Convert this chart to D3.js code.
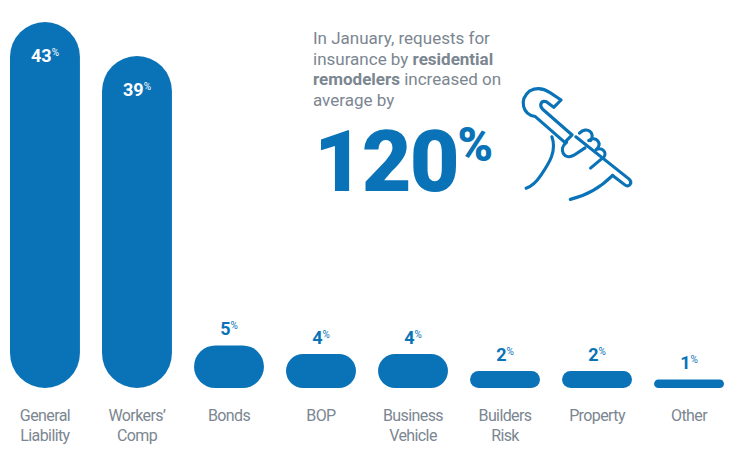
<!DOCTYPE html>
<html><head><meta charset="utf-8">
<script src="https://cdn.jsdelivr.net/npm/d3@7"></script>
<style>body{margin:0;background:#fff}text{font-family:Roboto,sans-serif}</style>
</head><body>
<svg id="c" width="750" height="466"></svg>
<script>
var categories = ["General|Liability","Workers’|Comp","Bonds","BOP","Business|Vehicle","Builders|Risk","Property","Other"];
var values = [43, 39, 5, 4, 4, 2, 2, 1];
var blue = "#0a73b7", grey = "#7b8691";

var svg = d3.select("#c");
var x = d3.scaleBand().domain(categories).range([10, 724]).paddingInner(0.24).paddingOuter(0);
var y = d3.scaleLinear().domain([0, 43]).range([388, 22]);

// bars, pill shaped
svg.selectAll("rect.bar").data(values).enter().append("rect")
  .attr("x", (d,i) => x(categories[i]))
  .attr("y", d => y(d))
  .attr("width", x.bandwidth())
  .attr("height", d => y(0) - y(d))
  .attr("rx", d => Math.min(x.bandwidth()/2, (y(0)-y(d))/2))
  .attr("fill", blue);

// value labels
var vl = svg.selectAll("text.val").data(values).enter().append("text")
  .attr("x", (d,i) => x(categories[i]) + x.bandwidth()/2)
  .attr("y", d => d > 20 ? y(d) + 40 : y(d) - 10)
  .attr("text-anchor", "middle")
  .attr("font-weight", "bold").attr("font-size", 18)
  .attr("fill", d => d > 20 ? "#fff" : blue);
vl.append("tspan").text(d => d);
vl.append("tspan").attr("dy", -6).attr("font-size", 10).attr("font-weight", "normal").text("%");

// category labels
svg.selectAll("text.cat").data(categories).enter().append("text")
  .attr("x", d => x(d) + x.bandwidth()/2)
  .attr("y", 421)
  .attr("text-anchor", "middle").attr("font-size", 16).attr("fill", grey)
  .attr("letter-spacing", "-0.6")
  .each(function(d){
    var t = d3.select(this);
    d.split("|").forEach((s,i) => t.append("tspan").attr("x", t.attr("x")).attr("dy", i ? 20 : 0).text(s));
  });

// callout
var lines = [[["In January, requests for", 0]], [["insurance by ", 0], ["residential", 1]],
             [["remodelers", 1], [" increased on", 0]], [["average by", 0]]];
lines.forEach(function(l, i){
  var t = svg.append("text").attr("x", 313).attr("y", 44 + i*20.5).attr("font-size", 17).attr("fill", grey);
  l.forEach(p => t.append("tspan").attr("font-weight", p[1] ? "bold" : "normal").text(p[0]));
});
var big = svg.append("text").attr("x", 314).attr("y", 191).attr("fill", blue).attr("font-weight", "900");
big.append("tspan").attr("font-size", 86).attr("letter-spacing", "-2").text("120");
big.append("tspan").attr("font-size", 48).attr("dy", -30).text("%");

// wrench in hand icon
var g = svg.append("g").attr("transform", "translate(125,-38) scale(0.92)")
  .attr("fill", "none").attr("stroke", blue).attr("stroke-width", 3.4)
  .attr("stroke-linecap", "round").attr("stroke-linejoin", "round");
g.append("path").attr("d", "M440,140 C428,150 432,166 446,168 L478,196 L486,188 L454,160 C450,156 452,150 458,152 L466,158 L474,150 L462,142 C456,138 448,136 440,140 Z");
g.append("path").attr("d", "M490,190 L548,236 C552,240 548,246 543,242 L530,232");
g.append("path").attr("d", "M480,196 C470,204 478,216 488,210 L500,202 M494,186 C502,178 512,186 506,194 M504,194 C512,188 520,198 512,204 M512,204 C520,200 526,210 518,214 L506,224");
g.append("path").attr("d", "M464,190 C470,206 460,220 452,232 C448,238 442,244 436,246");
g.append("path").attr("d", "M530,232 C518,244 502,254 484,258");
</script>
</body></html>
